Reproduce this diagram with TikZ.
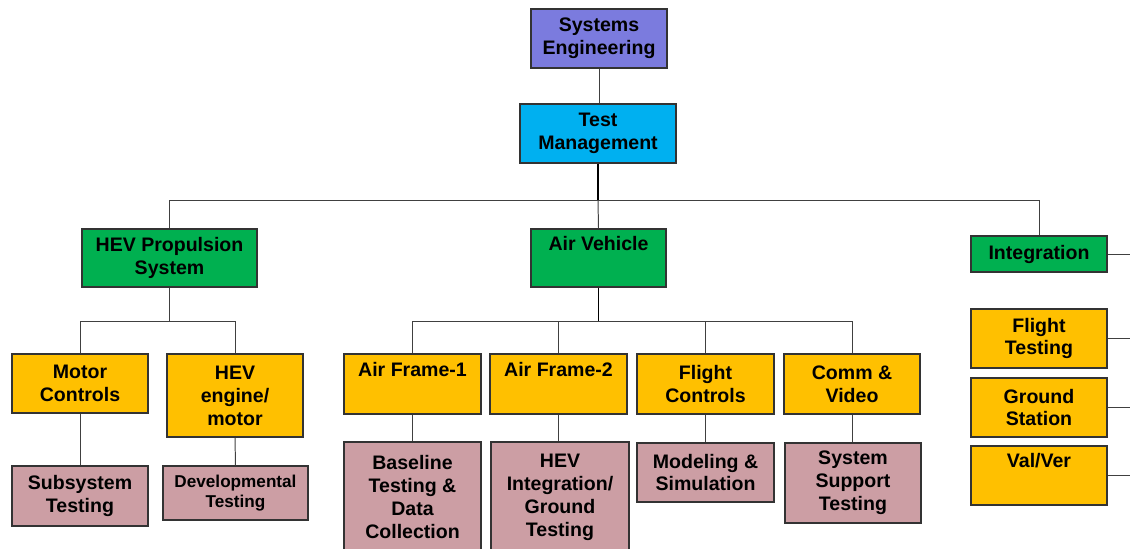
\documentclass[tikz,border=0pt]{standalone}
\usepackage{fontspec}
\setmainfont{Liberation Sans}
\usepackage{tikz}
\usetikzlibrary{calc}
\usetikzlibrary{positioning}
\definecolor{sepurple}{RGB}{123,123,222}
\definecolor{tmcyan}{RGB}{0,176,240}
\definecolor{grpgreen}{RGB}{0,176,80}
\definecolor{subgold}{RGB}{255,192,0}
\definecolor{testpink}{RGB}{204,158,164}

\begin{document}
\begin{tikzpicture}[x=0.025cm,y=-0.025cm,
	  box/.style={rectangle,draw=black!80,line width=0.9pt,align=center,inner sep=2pt,
	    font=\fontsize{13.9}{16.3}\selectfont\bfseries,minimum width=3.4cm,minimum height=1.475cm},
	  group node/.style={box,fill=grpgreen,minimum height=1.45cm},
	  area node/.style={box,fill=subgold},
	  test node/.style={box,fill=testpink},
	  link/.style={draw=black!75,line width=0.7pt},
	  stem/.style={draw=black,line width=1.2pt}]

	  \useasboundingbox (0,0) rectangle (1130,548);

	  \node[box, fill=sepurple] (se) at (599,38.5) {Systems\\Engineering};
	  \node[box, fill=tmcyan, minimum width=3.9cm] (tm) at ($ (se) + (-1,95) $) {Test\\Management};
	  \node[group node, minimum width=4.375cm] (hev) at (169.5,258) {HEV Propulsion\\System};
	  \node[group node, minimum width=3.375cm] (av) at ($ (tm) + (0.5,124.5) $) {Air Vehicle\\\strut};
	  \node[group node, minimum height=0.9cm] (integ) at (1039,254) {Integration};
	  \node[area node] (ft) at ($ (integ) + (0,84.5) $) {Flight\\Testing};
	  \node[area node] (gs) at ($ (ft) + (0,69) $) {Ground\\Station};
	  \node[area node] (vv) at ($ (gs) + (0,68) $) {Val/Ver\\\strut};

	  \node[area node] (mc) at (80,383.5) {Motor\\Controls};
	  \node[area node, minimum height=2.075cm] (hem) at ($ (mc) + (155,12) $) {HEV\\engine/\\motor};
	  \node[test node, minimum height=1.5cm] (sst) at ($ (mc) + (0,112.5) $) {Subsystem\\Testing};
	  \node[test node, minimum width=3.625cm, minimum height=1.35cm,
	    font=\fontsize{12.2}{13.8}\selectfont\bfseries] (dev) at (235.5,493) {Developmental\\Testing};

	  \node[area node, minimum width=3.425cm, minimum height=1.5cm] (af1) at (412.5,384) {Air Frame-1\\\strut};
	  \node[area node, minimum width=3.425cm, minimum height=1.5cm] (af2) at ($ (af1) + (146,0) $) {Air Frame-2\\\strut};
	  \node[area node, minimum width=3.425cm, minimum height=1.5cm] (fc) at ($ (af2) + (147,0) $) {Flight\\Controls};
	  \node[area node, minimum height=1.5cm] (cv) at ($ (fc) + (146.5,0) $) {Comm \&\\Video};
	  \node[test node, minimum width=3.425cm, minimum height=2.75cm] (bl) at (412.5,497) {Baseline\\Testing \&\\Data\\Collection};
	  \node[test node, minimum width=3.45cm, minimum height=2.75cm] (hig) at (560,497) {HEV\\Integration/\\Ground\\Testing};
	  \node[test node, minimum width=3.425cm] (ms) at (705.5,472.5) {Modeling \&\\Simulation};
	  \node[test node, minimum height=2cm] (sys) at (853,483) {System\\Support\\Testing};

	  \coordinate (top bus) at ($ (tm.south) + (0,37) $);
	  \coordinate (hev bus) at ($ (hev.south) + (0,34) $);
	  \coordinate (av bus) at ($ (av.south) + (0,34) $);
	  \coordinate (integ out) at ($ (integ.east) + (25,0) $);
	  \coordinate (ft out) at ($ (ft.east) + (25,0) $);
	  \coordinate (gs out) at ($ (gs.east) + (25,0) $);
	  \coordinate (vv out) at ($ (vv.east) + (25,0) $);

	  \draw[link] (se.south) -- (se.south |- tm.north);
	  \draw[stem] (tm.south) -- (top bus);
	  \draw[link] (hev.north) |- (top bus) -| (integ.north);
	  \draw[link] (top bus) -- (av.north);
	  \draw[link] (hev.south) -- (hev bus);
	  \draw[link] (mc.north) |- (hev bus) -| (hem.north);
	  \draw[stem] (av.south) -- (av bus);
	  \draw[link] (af1.north) |- (av bus) -| (cv.north);
	  \draw[link] (af2.north) -- (af2.north |- av bus);
	  \draw[link] (fc.north) -- (fc.north |- av bus);

	  \path[link]
	  	(mc.south)	edge	(sst.north)
	  	(hem.south)	edge	(dev.north)
	  	(af1.south)	edge	(bl.north)
	  	(af2.south)	edge	(af2.south |- hig.north)
	  	(fc.south)	edge	(ms.north)
	  	(cv.south)	edge	(cv.south |- sys.north)
	  	(integ.east)	edge	(integ out)
	  	(ft.east)	edge	(ft out)
	  	(gs.east)	edge	(gs out)
	  	(vv.east)	edge	(vv out);
\end{tikzpicture}
\end{document}
